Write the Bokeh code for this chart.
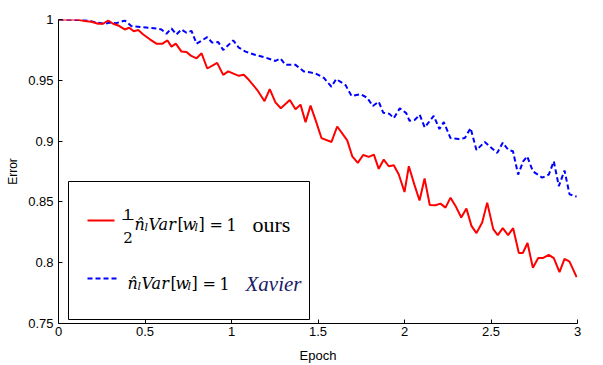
from bokeh.plotting import figure
from bokeh.models import Range1d, FixedTicker, Label, BoxAnnotation, Arrow
from bokeh.embed import file_html
from bokeh.resources import INLINE

# ---- data ----
ours_epoch = [0.000, 0.104, 0.162, 0.191, 0.229, 0.258, 0.287, 0.316, 0.345, 0.383,
              0.409, 0.435, 0.461, 0.490, 0.528, 0.566, 0.601, 0.630, 0.653, 0.678,
              0.711, 0.740, 0.765, 0.798, 0.827, 0.860, 0.917, 0.952, 0.981, 1.042,
              1.071, 1.100, 1.149, 1.191, 1.221, 1.254, 1.285, 1.337, 1.370, 1.399,
              1.428, 1.457, 1.490, 1.520, 1.578, 1.611, 1.669, 1.698, 1.730, 1.761,
              1.794, 1.823, 1.851, 1.880, 1.909, 1.938, 1.967, 2.000, 2.025, 2.058,
              2.087, 2.116, 2.146, 2.179, 2.208, 2.237, 2.266, 2.295, 2.328, 2.358,
              2.387, 2.416, 2.449, 2.478, 2.513, 2.539, 2.568, 2.599, 2.628, 2.661,
              2.684, 2.711, 2.742, 2.773, 2.802, 2.834, 2.863, 2.896, 2.925, 2.954,
              2.995]
ours_error = [1.0000, 1.0000, 0.9986, 0.9981, 0.9965, 0.9965, 0.9992, 0.9965, 0.9951, 0.9918,
              0.9932, 0.9904, 0.9913, 0.9877, 0.9837, 0.9801, 0.9801, 0.9828, 0.9777, 0.9801,
              0.9736, 0.9733, 0.9703, 0.9681, 0.9722, 0.9597, 0.9643, 0.9545, 0.9573, 0.9537,
              0.9545, 0.9504, 0.9420, 0.9328, 0.9428, 0.9319, 0.9270, 0.9338, 0.9262, 0.9300,
              0.9156, 0.9292, 0.9156, 0.9025, 0.8993, 0.9120, 0.9006, 0.8875, 0.8821, 0.8886,
              0.8870, 0.8889, 0.8772, 0.8848, 0.8793, 0.8801, 0.8725, 0.8581, 0.8793, 0.8638,
              0.8511, 0.8693, 0.8475, 0.8472, 0.8486, 0.8453, 0.8535, 0.8467, 0.8372, 0.8445,
              0.8303, 0.8243, 0.8331, 0.8494, 0.8276, 0.8227, 0.8284, 0.8227, 0.8284, 0.8080,
              0.8080, 0.8162, 0.7958, 0.8039, 0.8039, 0.8064, 0.8037, 0.7922, 0.8031, 0.8009,
              0.7882]

xavier_epoch = [0.000, 0.162, 0.201, 0.229, 0.268, 0.297, 0.335, 0.383, 0.422, 0.480,
                0.528, 0.566, 0.595, 0.624, 0.653, 0.682, 0.711, 0.740, 0.769, 0.798,
                0.860, 0.888, 0.923, 0.952, 1.010, 1.042, 1.081, 1.139, 1.197, 1.254,
                1.283, 1.312, 1.370, 1.418, 1.457, 1.486, 1.534, 1.578, 1.605, 1.659,
                1.694, 1.746, 1.784, 1.817, 1.851, 1.877, 1.913, 1.938, 1.973, 2.010,
                2.029, 2.060, 2.088, 2.117, 2.169, 2.202, 2.227, 2.266, 2.314, 2.349,
                2.382, 2.416, 2.464, 2.536, 2.568, 2.599, 2.627, 2.657, 2.686, 2.709,
                2.742, 2.796, 2.834, 2.863, 2.892, 2.925, 2.954, 2.995]
xavier_error = [1.0000, 0.9994, 0.9981, 0.9973, 0.9965, 0.9975, 0.9970, 0.9992, 0.9945, 0.9937,
                0.9932, 0.9926, 0.9918, 0.9883, 0.9926, 0.9877, 0.9918, 0.9891, 0.9906, 0.9801,
                0.9855, 0.9810, 0.9815, 0.9749, 0.9828, 0.9769, 0.9736, 0.9708, 0.9687, 0.9659,
                0.9679, 0.9627, 0.9627, 0.9573, 0.9565, 0.9556, 0.9520, 0.9447, 0.9510, 0.9461,
                0.9371, 0.9385, 0.9357, 0.9289, 0.9324, 0.9234, 0.9224, 0.9189, 0.9270, 0.9230,
                0.9167, 0.9175, 0.9216, 0.9112, 0.9208, 0.9099, 0.9156, 0.9025, 0.9017, 0.9025,
                0.9107, 0.8926, 0.8993, 0.8903, 0.8987, 0.8930, 0.8916, 0.8725, 0.8834, 0.8875,
                0.8752, 0.8699, 0.8725, 0.8834, 0.8630, 0.8758, 0.8562, 0.8543]

x_ticks = [0, 0.5, 1, 1.5, 2, 2.5, 3]
x_tick_labels = ["0", "0.5", "1", "1.5", "2", "2.5", "3"]
y_ticks = [0.75, 0.8, 0.85, 0.9, 0.95, 1.0]
y_tick_labels = ["0.75", "0.8", "0.85", "0.9", "0.95", "1"]

RED = "#ff0000"
BLUE = "#0000ff"
SANS = "Liberation Sans"
SERIF = "Liberation Serif"
MATH = "DejaVu Serif"

p = figure(width=603, height=365, output_backend="svg", toolbar_location=None,
           x_range=Range1d(0, 3), y_range=Range1d(0.75, 1.0),
           min_border_left=58, min_border_right=26, min_border_top=19, min_border_bottom=40)
p.outline_line_color = None
p.xgrid.visible = False
p.ygrid.visible = False
p.background_fill_color = "white"
p.border_fill_color = "white"

for ax, ticks, labels in ((p.xaxis[0], x_ticks, x_tick_labels), (p.yaxis[0], y_ticks, y_tick_labels)):
    ax.ticker = FixedTicker(ticks=ticks)
    ax.major_label_overrides = {t: l for t, l in zip(ticks, labels)}
    ax.minor_tick_line_color = None
    ax.major_tick_in = 4
    ax.major_tick_out = 0
    ax.axis_line_color = "black"
    ax.major_tick_line_color = "black"
    ax.major_label_text_font = SANS
    ax.major_label_text_font_size = "13px"
    ax.major_label_text_color = "black"
    ax.axis_label_text_font = SANS
    ax.axis_label_text_font_style = "normal"
    ax.axis_label_text_color = "black"

p.xaxis.axis_label = "Epoch"
p.xaxis.axis_label_text_font_size = "13px"
p.xaxis.major_label_standoff = 3
p.xaxis.axis_label_standoff = 9
p.yaxis.axis_label = "Error"
p.yaxis.axis_label_text_font_size = "12px"
p.yaxis.major_label_standoff = 5
p.yaxis.axis_label_standoff = 5

p.line(xavier_epoch, xavier_error, line_color=BLUE, line_width=2, line_dash="5 3")
p.line(ours_epoch, ours_error, line_color=RED, line_width=2)

# ---- hand-built legend (screen units relative to the plot frame) ----
p.add_layout(BoxAnnotation(left=10, right=251, bottom=4, top=142,
                           left_units="screen", right_units="screen",
                           bottom_units="screen", top_units="screen",
                           fill_color="white", fill_alpha=1.0,
                           line_color="black", line_alpha=1.0, line_width=1, level="overlay"))

def seg(x0, x1, y, color, dash="solid", width=2):
    p.add_layout(Arrow(x_start=x0, x_end=x1, y_start=y, y_end=y, start=None, end=None,
                       start_units="screen", end_units="screen",
                       line_color=color, line_width=width, line_dash=dash, level="overlay"))

def txt(x, y, s, size, style="normal", align="left", color="black", font=SERIF):
    p.add_layout(Label(x=x, y=y, x_units="screen", y_units="screen", text=s,
                       text_font=font, text_font_size=f"{size}px", text_font_style=style,
                       text_align=align, text_baseline="alphabetic", text_color=color,
                       level="overlay"))

seg(29, 56, 103, RED)
seg(29, 60, 45, BLUE, dash="5 3")

# line 1: 1/2 n_l Var[w_l] = 1  ours
txt(69.5, 108.7, "1", 15, font=MATH, align="center")
seg(64, 75, 104, "black", width=1)
txt(69.5, 86.3, "2", 15, font=MATH, align="center")

def expr(x0, yb):
    txt(x0, yb, "n\u0302", 16, "italic", font=MATH)
    txt(x0 + 10, yb - 3, "l", 11, "italic", font=MATH)
    txt(x0 + 14, yb, "Var", 16, "italic", font=MATH)
    txt(x0 + 43, yb, "[", 16, font=MATH)
    txt(x0 + 48, yb, "w", 16, "italic", font=MATH)
    txt(x0 + 60, yb - 3, "l", 11, "italic", font=MATH)
    txt(x0 + 64, yb, "]", 16, font=MATH)
    txt(x0 + 75, yb, "=", 16, font=MATH)
    txt(x0 + 92, yb, "1", 16, font=MATH)

expr(76, 99)
txt(194, 99, "ours", 22)
expr(69, 40)
txt(187, 40, "Xavier", 21, "italic", color="#1c1c66")

open("out.html", "w").write(file_html(p, INLINE))
